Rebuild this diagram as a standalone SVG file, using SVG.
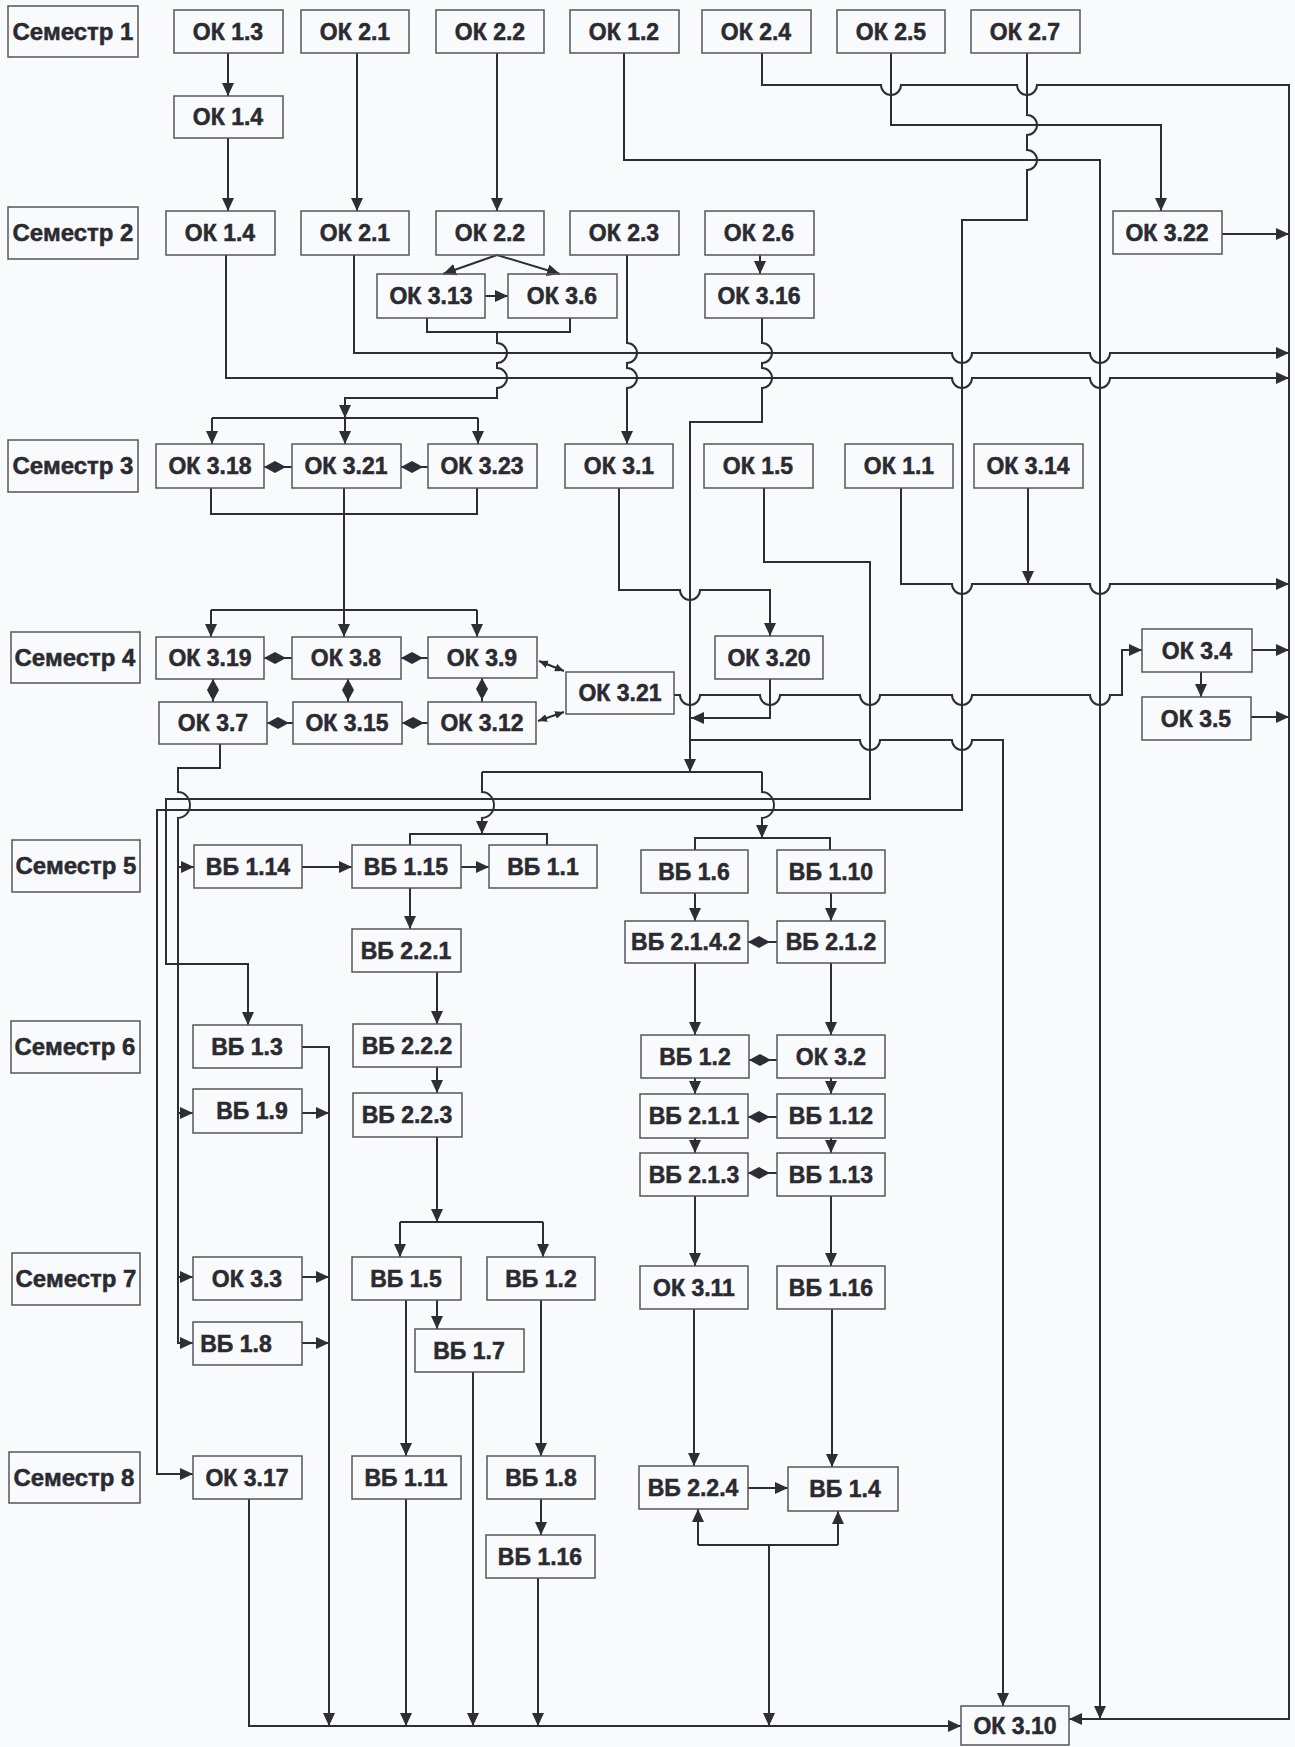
<svg xmlns="http://www.w3.org/2000/svg" width="1295" height="1747" viewBox="0 0 1295 1747">
<defs>
<style>
.n rect{fill:none;stroke:#55555b;stroke-width:1.5}
.n text{font-family:"Liberation Sans",Arial,sans-serif;font-weight:bold;font-size:23px;fill:#2a2a30;stroke:#2a2a30;stroke-width:0.5;text-anchor:middle}
.s text{font-size:24px}
.c path{fill:none;stroke:#2d2d35;stroke-width:2}
.a{marker-end:url(#ar)}
.d{marker-start:url(#dm)}
.b{marker-start:url(#ars);marker-end:url(#ars)}
</style>
<marker id="ar" markerUnits="userSpaceOnUse" markerWidth="13" markerHeight="12" refX="13" refY="6" orient="auto"><path d="M0,0 L13,6 L0,12 z" fill="#2d2d35"/></marker>
<marker id="ars" markerUnits="userSpaceOnUse" markerWidth="9" markerHeight="8" refX="9" refY="4" orient="auto-start-reverse"><path d="M0,0 L9,4 L0,8 z" fill="#2d2d35"/></marker>
<marker id="dm" markerUnits="userSpaceOnUse" markerWidth="22" markerHeight="12" refX="0" refY="6" orient="auto"><path d="M0,6 L11,0 L22,6 L11,12 z" fill="#2d2d35"/></marker>
</defs>
<rect width="1295" height="1747" fill="#f8fafc"/>

<g class="c" id="connectors">
<path class="a" d="M228,53 V96"/>
<path class="a" d="M228,138 V211"/>
<path class="a" d="M357,53 V211"/>
<path class="a" d="M497,53 V211"/>
<path class="a" d="M624,53 V160 H1100 V1719"/>
<path class="a" d="M762,53 V85 H881 A10,10 0 0 0 901,85 H1017 A10,10 0 0 0 1037,85 H1289 V1719 H1069"/>
<path class="a" d="M891,53 V125 H1161 V211"/>
<path class="a" d="M1027,53 V115 A10,10 0 0 1 1027,135 V150 A10,10 0 0 1 1027,170 V220 H962 V810 H157 V1474 H193"/>
<path class="a" d="M354,255 V353 H952 A10,10 0 0 0 972,353 H1090 A10,10 0 0 0 1110,353 H1289"/>
<path class="a" d="M226,255 V378 H952 A10,10 0 0 0 972,378 H1090 A10,10 0 0 0 1110,378 H1289"/>
<path class="a" d="M1222,234 H1289"/>
<path class="a" d="M497,255 L443,274"/>
<path class="a" d="M497,255 L560,274"/>
<path class="a" d="M485,296 H508"/>
<path d="M427,318 V332 H570 V318"/>
<path class="a" d="M497,332 V343 A10,10 0 0 1 497,363 V368 A10,10 0 0 1 497,388 V398 H345 V418"/>
<path d="M212,418 H478"/>
<path class="a" d="M212,418 V444"/>
<path class="a" d="M345,418 V444"/>
<path class="a" d="M478,418 V444"/>
<path class="a" d="M627,255 V343 A10,10 0 0 1 627,363 V368 A10,10 0 0 1 627,388 V444"/>
<path class="a" d="M760,255 V274"/>
<path class="a" d="M762,318 V343 A10,10 0 0 1 762,363 V368 A10,10 0 0 1 762,388 V422 H690 V772"/>
<path class="d" d="M264,467 H292"/>
<path class="d" d="M401,467 H428"/>
<path d="M211,488 V514 H477 V488"/>
<path class="a" d="M344,488 V637"/>
<path d="M211,610 H477"/>
<path class="a" d="M211,610 V637"/>
<path class="a" d="M477,610 V637"/>
<path class="a" d="M619,488 V590 H680 A10,10 0 0 0 700,590 H770 V636"/>
<path class="a" d="M764,488 V562 H870 V799 H166 V964 H248 V1025"/>
<path class="a" d="M901,488 V584 H952 A10,10 0 0 0 972,584 H1090 A10,10 0 0 0 1110,584 H1289"/>
<path class="a" d="M1028,488 V584"/>
<path class="a" d="M770,679 V718 H691"/>
<path class="a" d="M674,695 H680 A10,10 0 0 0 700,695 H760 A10,10 0 0 0 780,695 H860 A10,10 0 0 0 880,695 H952 A10,10 0 0 0 972,695 H1090 A10,10 0 0 0 1110,695 H1122 V650 H1142"/>
<path class="a" d="M690,740 H860 A10,10 0 0 0 880,740 H952 A10,10 0 0 0 972,740 H1003 V1706"/>
<path class="a" d="M1201,672 V697"/>
<path class="a" d="M1252,650 H1289"/>
<path class="a" d="M1251,717 H1289"/>
<path class="d" d="M264,658 H292"/>
<path class="d" d="M401,658 H428"/>
<path class="d" d="M267,723 H293"/>
<path class="d" d="M402,723 H428"/>
<path class="d" d="M213,679 V702"/>
<path class="d" d="M348,679 V702"/>
<path class="d" d="M482,678 V702"/>
<path class="b" d="M539,661 L564,671"/>
<path class="b" d="M538,721 L564,712"/>
<path d="M482,772 H762"/>
<path class="a" d="M482,772 V792 A12,13 0 0 1 482,818 V834"/>
<path class="a" d="M762,772 V792 A12,13 0 0 1 762,818 V838"/>
<path d="M410,845 V834 H547 V845"/>
<path d="M695,850 V838 H830 V850"/>
<path class="a" d="M220,744 V768 H178 V792 A12,13 0 0 1 178,818 V1343 H193"/>
<path class="a" d="M178,867 H194"/>
<path class="a" d="M178,1113 H193"/>
<path class="a" d="M178,1277 H193"/>
<path class="a" d="M302,867 H352"/>
<path class="a" d="M461,867 H489"/>
<path class="a" d="M410,888 V929"/>
<path class="a" d="M437,972 V1024"/>
<path class="a" d="M437,1067 V1093"/>
<path class="a" d="M437,1137 V1222"/>
<path d="M400,1222 H543"/>
<path class="a" d="M400,1222 V1257"/>
<path class="a" d="M543,1222 V1257"/>
<path class="a" d="M437,1300 V1329"/>
<path class="a" d="M406,1300 V1456"/>
<path class="a" d="M541,1300 V1456"/>
<path class="a" d="M541,1499 V1535"/>
<path class="a" d="M249,1499 V1726 H961"/>
<path class="a" d="M302,1047 H329 V1726"/>
<path class="a" d="M302,1113 H329"/>
<path class="a" d="M302,1277 H329"/>
<path class="a" d="M302,1343 H329"/>
<path class="a" d="M406,1499 V1726"/>
<path class="a" d="M473,1372 V1726"/>
<path class="a" d="M538,1578 V1726"/>
<path class="a" d="M695,893 V921"/>
<path class="a" d="M831,893 V921"/>
<path class="a" d="M695,963 V1035"/>
<path class="a" d="M831,963 V1035"/>
<path class="a" d="M695,1078 V1094"/>
<path class="a" d="M831,1078 V1094"/>
<path class="a" d="M695,1138 V1153"/>
<path class="a" d="M831,1138 V1153"/>
<path class="a" d="M695,1196 V1266"/>
<path class="a" d="M831,1196 V1266"/>
<path class="a" d="M694,1309 V1466"/>
<path class="a" d="M832,1309 V1467"/>
<path class="a" d="M748,1488 H788"/>
<path class="d" d="M748,942 H777"/>
<path class="d" d="M749,1060 H777"/>
<path class="d" d="M748,1117 H777"/>
<path class="d" d="M748,1173 H777"/>
<path d="M698,1545 H838"/>
<path class="a" d="M698,1545 V1509"/>
<path class="a" d="M838,1545 V1511"/>
<path class="a" d="M769,1545 V1726"/>
</g>

<g class="n s" id="sem1"><rect x="8" y="6" width="130" height="51"/><text x="73" y="40">Семестр 1</text></g>
<g class="n s" id="sem2"><rect x="8" y="207" width="130" height="52"/><text x="73" y="241">Семестр 2</text></g>
<g class="n s" id="sem3"><rect x="8" y="440" width="130" height="52"/><text x="73" y="474">Семестр 3</text></g>
<g class="n s" id="sem4"><rect x="11" y="632" width="129" height="51"/><text x="75" y="666">Семестр 4</text></g>
<g class="n s" id="sem5"><rect x="12" y="840" width="128" height="52"/><text x="76" y="874">Семестр 5</text></g>
<g class="n s" id="sem6"><rect x="11" y="1021" width="129" height="52"/><text x="75" y="1055">Семестр 6</text></g>
<g class="n s" id="sem7"><rect x="12" y="1253" width="128" height="52"/><text x="76" y="1287">Семестр 7</text></g>
<g class="n s" id="sem8"><rect x="9" y="1452" width="131" height="51"/><text x="74" y="1486">Семестр 8</text></g>

<g class="n" id="ok13"><rect x="174" y="10" width="109" height="43"/><text x="228" y="40">ОК 1.3</text></g>
<g class="n" id="ok21a"><rect x="301" y="10" width="108" height="43"/><text x="355" y="40">ОК 2.1</text></g>
<g class="n" id="ok22a"><rect x="436" y="10" width="108" height="43"/><text x="490" y="40">ОК 2.2</text></g>
<g class="n" id="ok12"><rect x="570" y="10" width="109" height="43"/><text x="624" y="40">ОК 1.2</text></g>
<g class="n" id="ok24"><rect x="702" y="10" width="109" height="43"/><text x="756" y="40">ОК 2.4</text></g>
<g class="n" id="ok25"><rect x="837" y="10" width="108" height="43"/><text x="891" y="40">ОК 2.5</text></g>
<g class="n" id="ok27"><rect x="971" y="10" width="109" height="43"/><text x="1025" y="40">ОК 2.7</text></g>
<g class="n" id="ok14a"><rect x="174" y="96" width="109" height="42"/><text x="228" y="125">ОК 1.4</text></g>
<g class="n" id="ok14b"><rect x="166" y="211" width="109" height="44"/><text x="220" y="241">ОК 1.4</text></g>
<g class="n" id="ok21b"><rect x="301" y="211" width="108" height="44"/><text x="355" y="241">ОК 2.1</text></g>
<g class="n" id="ok22b"><rect x="436" y="211" width="108" height="44"/><text x="490" y="241">ОК 2.2</text></g>
<g class="n" id="ok23"><rect x="570" y="211" width="109" height="44"/><text x="624" y="241">ОК 2.3</text></g>
<g class="n" id="ok26"><rect x="705" y="211" width="109" height="44"/><text x="759" y="241">ОК 2.6</text></g>
<g class="n" id="ok322"><rect x="1113" y="211" width="109" height="43"/><text x="1167" y="241">ОК 3.22</text></g>
<g class="n" id="ok313"><rect x="377" y="274" width="108" height="44"/><text x="431" y="304">ОК 3.13</text></g>
<g class="n" id="ok36"><rect x="508" y="274" width="109" height="44"/><text x="562" y="304">ОК 3.6</text></g>
<g class="n" id="ok316"><rect x="705" y="274" width="109" height="44"/><text x="759" y="304">ОК 3.16</text></g>
<g class="n" id="ok318"><rect x="156" y="444" width="108" height="44"/><text x="210" y="474">ОК 3.18</text></g>
<g class="n" id="ok321a"><rect x="292" y="444" width="109" height="44"/><text x="346" y="474">ОК 3.21</text></g>
<g class="n" id="ok323"><rect x="428" y="444" width="109" height="44"/><text x="482" y="474">ОК 3.23</text></g>
<g class="n" id="ok31"><rect x="565" y="444" width="108" height="44"/><text x="619" y="474">ОК 3.1</text></g>
<g class="n" id="ok15"><rect x="704" y="444" width="109" height="44"/><text x="758" y="474">ОК 1.5</text></g>
<g class="n" id="ok11"><rect x="845" y="444" width="108" height="44"/><text x="899" y="474">ОК 1.1</text></g>
<g class="n" id="ok314"><rect x="974" y="444" width="109" height="44"/><text x="1028" y="474">ОК 3.14</text></g>
<g class="n" id="ok319"><rect x="156" y="637" width="108" height="42"/><text x="210" y="666">ОК 3.19</text></g>
<g class="n" id="ok38"><rect x="292" y="637" width="109" height="42"/><text x="346" y="666">ОК 3.8</text></g>
<g class="n" id="ok39"><rect x="428" y="637" width="109" height="41"/><text x="482" y="666">ОК 3.9</text></g>
<g class="n" id="ok320"><rect x="715" y="636" width="108" height="43"/><text x="769" y="666">ОК 3.20</text></g>
<g class="n" id="ok321b"><rect x="566" y="672" width="108" height="42"/><text x="620" y="701">ОК 3.21</text></g>
<g class="n" id="ok34"><rect x="1142" y="629" width="110" height="43"/><text x="1197" y="659">ОК 3.4</text></g>
<g class="n" id="ok35"><rect x="1142" y="697" width="109" height="43"/><text x="1196" y="727">ОК 3.5</text></g>
<g class="n" id="ok37"><rect x="159" y="702" width="108" height="42"/><text x="213" y="731">ОК 3.7</text></g>
<g class="n" id="ok315"><rect x="293" y="702" width="109" height="42"/><text x="347" y="731">ОК 3.15</text></g>
<g class="n" id="ok312"><rect x="428" y="702" width="108" height="42"/><text x="482" y="731">ОК 3.12</text></g>
<g class="n" id="vb114"><rect x="194" y="845" width="108" height="43"/><text x="248" y="875">ВБ 1.14</text></g>
<g class="n" id="vb115"><rect x="352" y="845" width="109" height="43"/><text x="406" y="875">ВБ 1.15</text></g>
<g class="n" id="vb11"><rect x="489" y="845" width="108" height="43"/><text x="543" y="875">ВБ 1.1</text></g>
<g class="n" id="vb16"><rect x="641" y="850" width="107" height="43"/><text x="694" y="880">ВБ 1.6</text></g>
<g class="n" id="vb110"><rect x="777" y="850" width="108" height="43"/><text x="831" y="880">ВБ 1.10</text></g>
<g class="n" id="vb2142"><rect x="625" y="921" width="123" height="42"/><text x="686" y="950">ВБ 2.1.4.2</text></g>
<g class="n" id="vb212"><rect x="777" y="921" width="108" height="42"/><text x="831" y="950">ВБ 2.1.2</text></g>
<g class="n" id="vb221"><rect x="352" y="929" width="109" height="43"/><text x="406" y="959">ВБ 2.2.1</text></g>
<g class="n" id="vb13"><rect x="193" y="1025" width="109" height="43"/><text x="247" y="1055">ВБ 1.3</text></g>
<g class="n" id="vb19"><rect x="193" y="1089" width="109" height="44"/><text x="252" y="1119">ВБ 1.9</text></g>
<g class="n" id="vb222"><rect x="353" y="1024" width="108" height="43"/><text x="407" y="1054">ВБ 2.2.2</text></g>
<g class="n" id="vb223"><rect x="353" y="1093" width="109" height="44"/><text x="407" y="1123">ВБ 2.2.3</text></g>
<g class="n" id="vb12a"><rect x="641" y="1035" width="108" height="43"/><text x="695" y="1065">ВБ 1.2</text></g>
<g class="n" id="ok32"><rect x="777" y="1035" width="108" height="43"/><text x="831" y="1065">ОК 3.2</text></g>
<g class="n" id="vb211"><rect x="640" y="1094" width="108" height="44"/><text x="694" y="1124">ВБ 2.1.1</text></g>
<g class="n" id="vb112"><rect x="777" y="1094" width="108" height="44"/><text x="831" y="1124">ВБ 1.12</text></g>
<g class="n" id="vb213"><rect x="640" y="1153" width="108" height="43"/><text x="694" y="1183">ВБ 2.1.3</text></g>
<g class="n" id="vb113"><rect x="777" y="1153" width="108" height="43"/><text x="831" y="1183">ВБ 1.13</text></g>
<g class="n" id="ok33"><rect x="193" y="1257" width="109" height="43"/><text x="247" y="1287">ОК 3.3</text></g>
<g class="n" id="vb18a"><rect x="193" y="1322" width="109" height="43"/><text x="236" y="1352">ВБ 1.8</text></g>
<g class="n" id="vb15"><rect x="352" y="1257" width="109" height="43"/><text x="406" y="1287">ВБ 1.5</text></g>
<g class="n" id="vb12b"><rect x="487" y="1257" width="108" height="43"/><text x="541" y="1287">ВБ 1.2</text></g>
<g class="n" id="vb17"><rect x="415" y="1329" width="109" height="43"/><text x="469" y="1359">ВБ 1.7</text></g>
<g class="n" id="ok311"><rect x="640" y="1266" width="108" height="43"/><text x="694" y="1296">ОК 3.11</text></g>
<g class="n" id="vb116a"><rect x="777" y="1266" width="108" height="43"/><text x="831" y="1296">ВБ 1.16</text></g>
<g class="n" id="ok317"><rect x="193" y="1456" width="109" height="43"/><text x="247" y="1486">ОК 3.17</text></g>
<g class="n" id="vb111"><rect x="352" y="1456" width="109" height="43"/><text x="406" y="1486">ВБ 1.11</text></g>
<g class="n" id="vb18b"><rect x="487" y="1456" width="108" height="43"/><text x="541" y="1486">ВБ 1.8</text></g>
<g class="n" id="vb116b"><rect x="486" y="1535" width="109" height="43"/><text x="540" y="1565">ВБ 1.16</text></g>
<g class="n" id="vb224"><rect x="639" y="1466" width="109" height="43"/><text x="693" y="1496">ВБ 2.2.4</text></g>
<g class="n" id="vb14"><rect x="788" y="1467" width="110" height="44"/><text x="845" y="1497">ВБ 1.4</text></g>
<g class="n" id="ok310"><rect x="961" y="1706" width="108" height="39"/><text x="1015" y="1734">ОК 3.10</text></g>
</svg>
